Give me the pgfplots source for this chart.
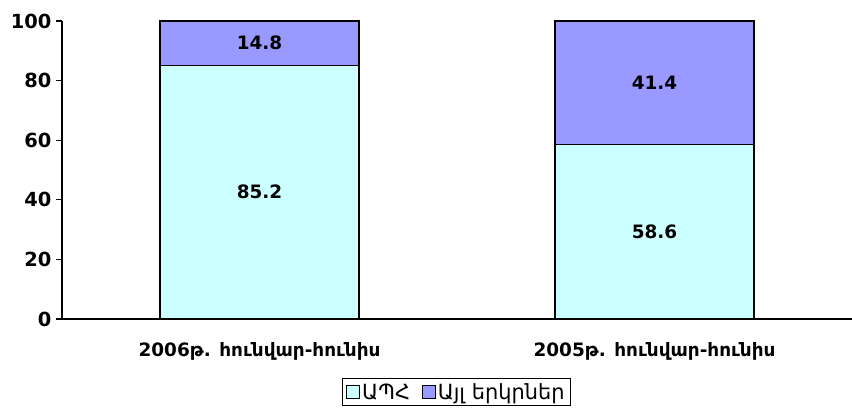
\documentclass[border=0pt]{standalone}
\usepackage{pgfplots}
\pgfplotsset{compat=1.18}
\usepackage{fontspec}
\setmainfont{DejaVu Sans}
\definecolor{cis}{HTML}{CCFFFF}
\definecolor{other}{HTML}{9999FF}
\begin{document}
\begin{tikzpicture}
\useasboundingbox (-62bp,-97bp) rectangle (790bp,319bp);
\begin{axis}[
    scale only axis,
    width=790bp, height=298bp,
    ybar stacked,
    bar width=199bp,
    xmin=-0.5, xmax=1.5,
    ymin=0, ymax=100,
    axis x line=bottom,
    axis y line=left,
    axis line style={line width=1.4pt,-},
    ytick={0,20,...,100},
    xtick={0,1},
    xticklabels={2006թ. հունվար-հունիս, 2005թ. հունվար-հունիս},
    x tick style={draw=none},
    extra x ticks={-0.5,0.5,1.5},
    extra x tick labels={},
    extra x tick style={tick style={draw=black, line width=1.2pt}, major tick length=6bp, tick align=outside},
    y tick style={line width=1.2pt, black},
    tick align=outside,
    major tick length=6bp,
    /pgf/number format/assume math mode=true,
    yticklabel style={font=\bfseries\fontsize{19.5}{21}\selectfont, xshift=-1bp},
    xticklabel style={font=\bfseries\fontsize{18.5}{20}\selectfont, yshift=-14bp},
    nodes near coords,
    every node near coord/.style={font=\bfseries\fontsize{18.5}{20}\selectfont, anchor=center, text=black},
    legend style={at={(0.4994,-0.198)}, anchor=north, legend columns=-1,
        draw=black, line width=1pt, font=\fontsize{21}{24}\selectfont,
        inner xsep=4bp, inner ysep=3bp, /tikz/every even column/.append style={column sep=10bp}},
    legend image code/.code={\draw[#1, line width=0.8pt] (0bp,-6.5bp) rectangle (13bp,6.5bp);},
]
\addplot[fill=cis, draw=black, line width=1.1pt] coordinates {(0,85.2) (1,58.6)};
\addplot[fill=other, draw=black, line width=1.1pt] coordinates {(0,14.8) (1,41.4)};
\legend{ԱՊՀ, Այլ երկրներ}
\end{axis}
\end{tikzpicture}
\end{document}
